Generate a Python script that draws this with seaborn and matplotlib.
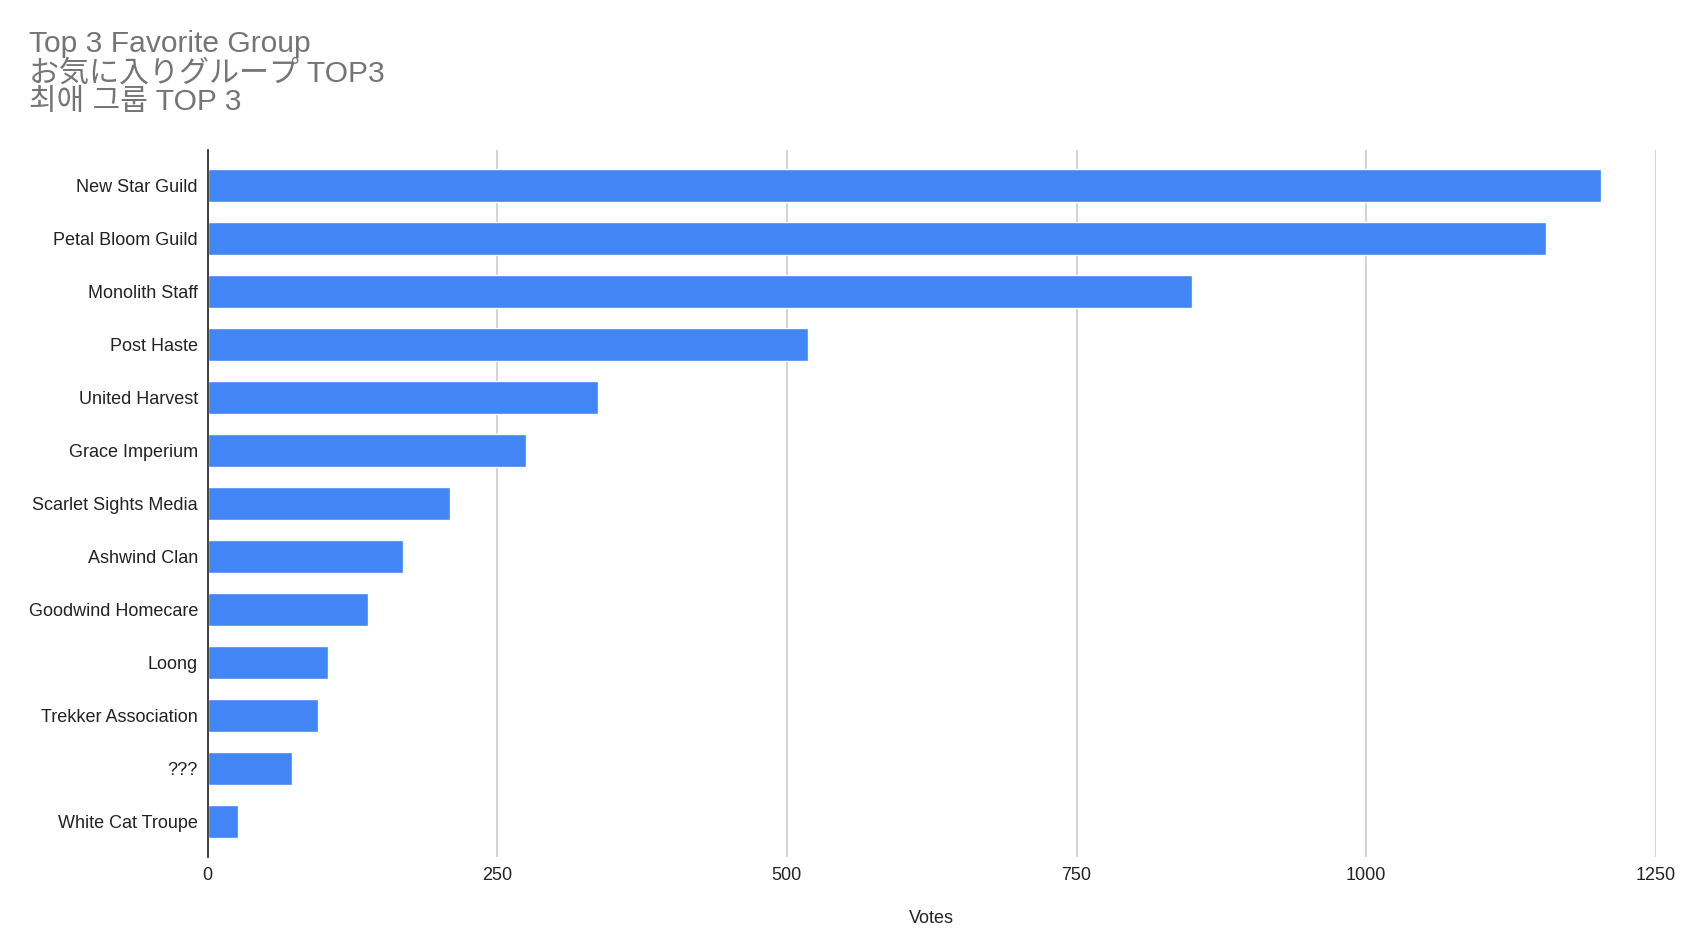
import matplotlib
matplotlib.use('Agg')
import matplotlib.pyplot as plt
import seaborn as sns
import pandas as pd

# Data
groups = ['New Star Guild', 'Petal Bloom Guild', 'Monolith Staff', 'Post Haste',
          'United Harvest', 'Grace Imperium', 'Scarlet Sights Media', 'Ashwind Clan',
          'Goodwind Homecare', 'Loong', 'Trekker Association', '???', 'White Cat Troupe']
votes = [1203, 1155, 850, 518, 337, 275, 209, 169, 138, 104, 95, 73, 26]
x_ticks = [0, 250, 500, 750, 1000, 1250]
title_lines = ['Top 3 Favorite Group', 'お気に入りグループ TOP3', '최애 그룹 TOP 3']
title_fonts = [['Liberation Sans'],
               ['Liberation Sans', 'Noto Sans CJK JP'],
               ['Liberation Sans', 'Noto Sans CJK KR']]

df = pd.DataFrame({'group': groups, 'votes': votes})

sns.set_style('white')
plt.rcParams['font.family'] = ['Liberation Sans', 'Noto Sans CJK JP', 'DejaVu Sans']

W, H = 1687, 950
fig = plt.figure(figsize=(W / 100, H / 100), dpi=100)
ax = fig.add_axes([207.7 / W, 1 - 857 / H, (1655.7 - 207.7) / W, (857 - 150) / H])

sns.barplot(data=df, x='votes', y='group', color='#4285f4', width=0.635,
            saturation=1, ax=ax, zorder=3)

ax.set_xlim(0, 1250)
ax.set_ylim(len(groups) - 0.33, -0.67)
ax.set_xticks(x_ticks)
ax.set_xticklabels([str(t) for t in x_ticks])
ax.grid(axis='x', color='#cccccc', linewidth=1.2, zorder=0)
ax.grid(axis='y', visible=False)
for s in ['top', 'right', 'bottom']:
    ax.spines[s].set_visible(False)
ax.spines['left'].set_color('#333333')
ax.spines['left'].set_linewidth(1.3)
ax.spines['left'].set_zorder(4)
ax.tick_params(axis='both', length=0, labelsize=13, labelcolor='#222222')
ax.tick_params(axis='x', pad=7)
ax.tick_params(axis='y', pad=7)
ax.set_ylabel('')
ax.set_xlabel('Votes', fontsize=13, color='#222222', labelpad=19)

baselines = [52, 82, 110]
for line, fam, yb in zip(title_lines, title_fonts, baselines):
    fig.text(29 / W, 1 - yb / H, line, fontsize=21.6, color='#757575',
             family=fam, ha='left', va='baseline')

fig.savefig('out.png', dpi=100)
